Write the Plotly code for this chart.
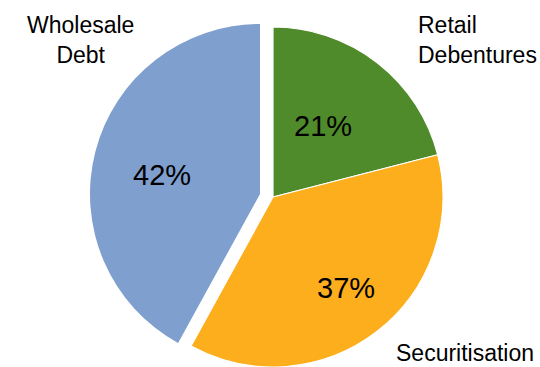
import plotly.graph_objects as go

# Funding mix shares (per cent)
categories = ["Retail Debentures", "Securitisation", "Wholesale Debt"]
shares = [21, 37, 42]
colors = ["#4F8A2B", "#FDAE1D", "#7F9FCE"]

W, H = 540, 367
FONT = "Liberation Sans, Arial, sans-serif"


def px_x(x):
    return x / W


def px_y(y):
    return 1 - y / H


# Main pie: centre (273, 197), radius 170 px
main_dom_x = [px_x(103), px_x(443)]
main_dom_y = [0.0, px_y(27)]
# Exploded wholesale slice: same pie shifted out along its bisector
exp_dom_x = [px_x(90), px_x(430)]
exp_dom_y = [px_y(364), px_y(24)]

exploded = "Wholesale Debt"
transparent = "rgba(0,0,0,0)"

main_colors = [transparent if c == exploded else col for c, col in zip(categories, colors)]
main_lw = [0 if c == exploded else 1.2 for c in categories]
exp_colors = [col if c == exploded else transparent for c, col in zip(categories, colors)]

fig = go.Figure()
fig.add_trace(go.Pie(
    labels=categories, values=shares, sort=False, direction="clockwise", rotation=0,
    marker=dict(colors=main_colors, line=dict(color="white", width=main_lw)),
    textinfo="none", hoverinfo="skip", showlegend=False,
    domain=dict(x=main_dom_x, y=main_dom_y),
))
fig.add_trace(go.Pie(
    labels=categories, values=shares, sort=False, direction="clockwise", rotation=0,
    marker=dict(colors=exp_colors, line=dict(width=0)),
    textinfo="none", hoverinfo="skip", showlegend=False,
    domain=dict(x=exp_dom_x, y=exp_dom_y),
))

total = sum(shares)
pct_pos = {
    "Retail Debentures": (323, 126),
    "Securitisation": (346, 288),
    "Wholesale Debt": (162, 175),
}
name_pos = {
    "Retail Debentures": (417, 40, "left", "left"),
    "Securitisation": (395, 353, "left", "left"),
    "Wholesale Debt": (80, 40, "center", "center"),
}

annotations = []
for cat, val in zip(categories, shares):
    x, y = pct_pos[cat]
    annotations.append(dict(
        x=px_x(x), y=px_y(y), xref="paper", yref="paper",
        text=f"{round(val / total * 100)}%", showarrow=False,
        xanchor="center", yanchor="middle",
        font=dict(family=FONT, size=29, color="#000000"),
    ))
    nx, ny, xanchor, align = name_pos[cat]
    annotations.append(dict(
        x=px_x(nx), y=px_y(ny), xref="paper", yref="paper",
        text=cat.replace(" ", "<br>"), showarrow=False,
        xanchor=xanchor, yanchor="middle", align=align, borderpad=0,
        font=dict(family=FONT, size=23, color="#000000"),
    ))

fig.update_layout(
    width=W, height=H,
    margin=dict(l=0, r=0, t=0, b=0),
    paper_bgcolor="white", plot_bgcolor="white",
    annotations=annotations,
)

fig.write_html("out.html")
